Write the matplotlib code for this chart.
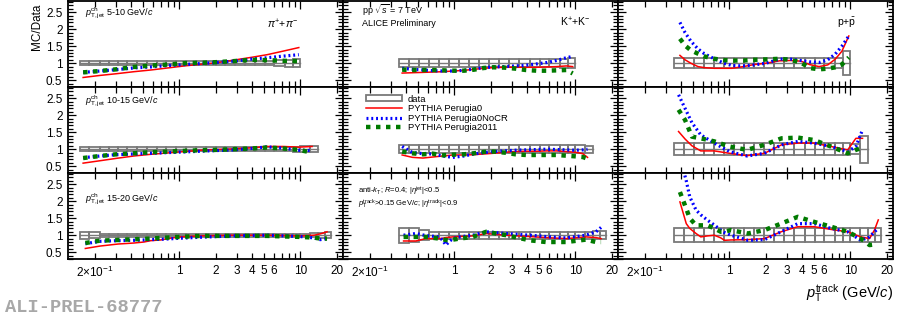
import matplotlib
matplotlib.use("Agg")
import matplotlib.pyplot as plt
from matplotlib.patches import Rectangle, Patch
from matplotlib.lines import Line2D
from matplotlib.ticker import FixedLocator, FixedFormatter
import numpy as np

plt.rcParams['font.family'] = ['Liberation Sans', 'DejaVu Sans']
plt.rcParams['mathtext.fontset'] = 'custom'
plt.rcParams['mathtext.rm'] = 'Liberation Sans'
plt.rcParams['mathtext.it'] = 'Liberation Sans:italic'
plt.rcParams['mathtext.bf'] = 'Liberation Sans:bold'

# ---- data ----
jet_bins = ["5-10", "10-15", "15-20"]
jet_max = [10.0, 14.0, 18.0]

edges_pi = [0.15, 0.18, 0.22, 0.26, 0.31, 0.37, 0.45, 0.54, 0.65, 0.78, 0.94, 1.13,
            1.36, 1.65, 2.0, 2.4, 2.9, 3.5, 4.2, 5.1, 6.1, 7.4, 8.7, 10.0, 12.0, 14.0,
            16.0, 18.0]
edges_kp = [0.35, 0.42, 0.51, 0.62, 0.75, 0.91, 1.1, 1.33, 1.6, 1.95, 2.35, 2.85, 3.45,
            4.2, 5.1, 6.1, 7.4, 8.7, 10.0, 12.0, 14.0, 16.0, 18.0]

# systematic uncertainty of data (half height of boxes), per bin
syst_pi = [[0.06] * 20 + [0.08, 0.10, 0.12],
           [0.06] * 22 + [0.07, 0.08, 0.08],
           [0.10, 0.08] + [0.05] * 22 + [0.06, 0.07, 0.08]]
syst_k = [[0.12] * 16 + [0.13, 0.15],
          [0.12] * 18 + [0.12, 0.10],
          [0.22, 0.20, 0.15] + [0.10] * 17 + [0.12, 0.12]]
syst_p = [[0.15] * 17 + [0.35],
          [0.17] * 18 + [0.15, 0.40],
          [0.20] * 22]

# MC / data ratios: x, Perugia0, Perugia0NoCR, Perugia2011
pi1_x = [0.16, 0.22, 0.3, 0.42, 0.58, 0.8, 1.1, 1.5, 2.0, 2.8, 3.9, 5.3, 7.3, 9.7]
pi1_p0 = [0.58, 0.64, 0.69, 0.75, 0.80, 0.86, 0.92, 0.97, 1.01, 1.09, 1.17, 1.25, 1.36, 1.46]
pi1_nocr = [0.73, 0.77, 0.81, 0.86, 0.89, 0.93, 0.96, 0.99, 1.02, 1.06, 1.12, 1.16, 1.21, 1.25]
pi1_p11 = [0.73, 0.77, 0.82, 0.89, 0.93, 0.96, 1.0, 1.01, 1.03, 1.06, 1.10, 1.09, 1.07, 1.06]

k1_x = [0.37, 0.45, 0.55, 0.66, 0.8, 0.97, 1.2, 1.45, 1.75, 2.1, 2.6, 3.2, 3.9, 4.8, 5.8,
        7.0, 8.4, 9.5]
k1_p0 = [0.71, 0.72, 0.73, 0.74, 0.75, 0.77, 0.79, 0.82, 0.85, 0.87, 0.88, 0.88, 0.88,
         0.88, 0.89, 0.90, 0.92, 0.90]
k1_nocr = [0.85, 0.82, 0.80, 0.78, 0.77, 0.77, 0.79, 0.83, 0.87, 0.89, 0.90, 0.92, 0.94,
           0.98, 1.02, 1.08, 1.16, 1.20]
k1_p11 = [0.81, 0.80, 0.80, 0.80, 0.79, 0.78, 0.78, 0.81, 0.86, 0.88, 0.87, 0.84, 0.80,
          0.78, 0.78, 0.79, 0.80, 0.70]

p1_x = [0.39, 0.43, 0.48, 0.55, 0.62, 0.75, 0.9, 1.05, 1.3, 1.6, 2.0, 2.6, 3.2, 3.9, 4.6,
        5.5, 6.5, 7.5, 8.5, 9.7]
p1_p0 = [1.23, 1.10, 1.0, 0.90, 0.87, 0.85, 0.85, 0.85, 0.90, 0.96, 1.0, 1.07, 1.08, 1.06,
         0.96, 0.90, 0.95, 1.12, 1.35, 1.80]
p1_nocr = [2.20, 1.90, 1.65, 1.42, 1.28, 1.13, 1.0, 0.93, 0.92, 0.95, 1.0, 1.12, 1.12, 1.08,
           1.04, 1.02, 1.10, 1.27, 1.50, 1.80]
p1_p11 = [1.72, 1.52, 1.38, 1.28, 1.20, 1.13, 1.09, 1.08, 1.08, 1.10, 1.11, 1.13, 1.10,
          1.02, 0.86, 0.82, 0.84, 0.88, 0.96, 1.17]

pi2_x = [0.16, 0.22, 0.3, 0.42, 0.58, 0.8, 1.1, 1.5, 2.0, 2.8, 3.9, 5.3, 7.3, 9.7, 12.5]
pi2_p0 = [0.59, 0.66, 0.73, 0.80, 0.85, 0.89, 0.93, 0.97, 0.99, 1.01, 1.04, 1.08, 1.08,
          1.06, 1.08]
pi2_nocr = [0.75, 0.80, 0.84, 0.86, 0.88, 0.90, 0.92, 0.94, 0.96, 0.98, 1.02, 1.07, 1.03,
            0.97, 0.96]
pi2_p11 = [0.74, 0.80, 0.85, 0.88, 0.91, 0.93, 0.95, 0.97, 0.98, 1.0, 1.02, 1.05, 1.02,
           0.98, 0.90]

k2_x = [0.37, 0.45, 0.55, 0.66, 0.8, 0.97, 1.2, 1.45, 1.75, 2.1, 2.6, 3.2, 3.9, 4.8, 5.8,
        7.0, 8.4, 10.0, 11.5, 12.6]
k2_p0 = [0.83, 0.76, 0.74, 0.77, 0.80, 0.83, 0.83, 0.84, 0.86, 0.88, 0.91, 0.93, 0.94,
         0.94, 0.95, 0.95, 0.93, 0.91, 0.87, 0.76]
k2_nocr = [1.08, 0.90, 0.87, 0.86, 0.80, 0.76, 0.80, 0.86, 0.90, 0.93, 0.95, 0.97, 0.98,
           0.99, 1.0, 0.99, 0.98, 0.97, 0.98, 1.0]
k2_p11 = [0.93, 0.88, 0.85, 0.87, 0.82, 0.84, 0.85, 0.88, 0.92, 0.93, 0.90, 0.85, 0.83,
          0.83, 0.83, 0.83, 0.81, 0.79, 0.77, 0.72]

p2_x = [0.38, 0.43, 0.49, 0.58, 0.75, 1.0, 1.4, 1.95, 2.7, 3.7, 5.0, 6.9, 9.5, 11.1, 12.6]
p2_p0 = [1.52, 1.30, 1.10, 0.95, 0.95, 0.88, 0.81, 0.88, 1.13, 1.18, 1.18, 1.08, 0.98,
         1.32, 1.32]
p2_nocr = [2.60, 2.20, 1.78, 1.42, 1.18, 0.93, 0.80, 0.88, 1.13, 1.23, 1.18, 1.08, 0.93,
           1.08, 1.57]
p2_p11 = [2.16, 1.86, 1.37, 1.32, 1.23, 1.08, 0.98, 1.13, 1.32, 1.34, 1.27, 1.08, 0.88,
          0.98, 1.05]

pi3_x = [0.167, 0.22, 0.31, 0.42, 0.51, 0.58, 0.7, 0.8, 1.0, 1.5, 2.8, 5.3, 10.0, 13.0,
         14.6, 16.6]
pi3_p0 = [0.61, 0.68, 0.74, 0.77, 0.80, 0.84, 0.86, 0.90, 0.95, 0.98, 1.0, 1.0, 0.98,
          1.0, 1.04, 1.10]
pi3_nocr = [0.75, 0.82, 0.84, 0.85, 0.86, 0.87, 0.88, 0.89, 0.91, 0.94, 0.98, 1.0, 0.96,
            0.92, 0.87, 0.90]
pi3_p11 = [0.77, 0.84, 0.86, 0.88, 0.89, 0.90, 0.92, 0.93, 0.95, 0.98, 0.98, 0.98, 0.95,
           0.93, 0.90, 0.90]

k3_x = [0.38, 0.48, 0.58, 0.75, 0.8, 0.85, 0.91, 0.97, 1.1, 1.42, 1.83, 2.67, 4.2, 5.7,
        8.4, 12.2, 14.8, 16.3]
k3_p0 = [0.83, 0.83, 0.90, 0.90, 0.91, 0.93, 0.94, 0.95, 0.96, 0.98, 1.05, 1.0, 0.96,
         0.93, 0.90, 0.95, 0.93, 0.90]
k3_nocr = [1.0, 1.05, 0.99, 0.95, 0.85, 0.71, 0.82, 0.90, 0.95, 1.0, 1.10, 1.05, 1.0,
           0.96, 0.92, 1.0, 1.10, 1.23]
k3_p11 = [0.95, 0.95, 0.95, 0.90, 0.88, 0.86, 0.85, 0.87, 0.90, 0.95, 1.10, 1.0, 0.85,
          0.80, 0.80, 0.87, 0.80, 0.80]

p3_x = [0.39, 0.44, 0.47, 0.53, 0.58, 0.66, 0.75, 0.85, 0.91, 1.03, 1.42, 1.95, 2.67,
        3.67, 5.04, 6.92, 9.5, 12.2, 14.4, 15.8, 17.0]
p3_p0 = [1.98, 1.34, 1.20, 1.05, 0.95, 0.98, 1.0, 0.92, 0.85, 0.86, 0.87, 0.90, 1.10,
         1.25, 1.25, 1.17, 1.10, 0.95, 0.90, 1.15, 1.45]
p3_nocr = [3.30, 2.60, 2.13, 1.74, 1.60, 1.44, 1.30, 1.15, 1.08, 1.0, 0.85, 0.87, 1.10,
           1.34, 1.34, 1.20, 1.10, 0.85, 0.95, 1.10, 1.20]
p3_p11 = [2.27, 1.78, 1.50, 1.29, 1.29, 1.29, 1.20, 1.10, 1.10, 1.15, 1.05, 1.15, 1.34,
          1.54, 1.39, 1.25, 1.10, 0.90, 0.71, 0.73, np.nan]

curves = [[(pi1_x, pi1_p0, pi1_nocr, pi1_p11), (k1_x, k1_p0, k1_nocr, k1_p11), (p1_x, p1_p0, p1_nocr, p1_p11)],
          [(pi2_x, pi2_p0, pi2_nocr, pi2_p11), (k2_x, k2_p0, k2_nocr, k2_p11), (p2_x, p2_p0, p2_nocr, p2_p11)],
          [(pi3_x, pi3_p0, pi3_nocr, pi3_p11), (k3_x, k3_p0, k3_nocr, k3_p11), (p3_x, p3_p0, p3_nocr, p3_p11)]]
systs = [syst_pi, syst_k, syst_p]
edges_all = [edges_pi, edges_kp, edges_kp]

# ---- styles ----
gray = '#7a7a7a'
red = '#ff0000'
blue = '#0000ff'
green = '#007a00'
ls_blue = (0, (0.6, 0.9))
ls_green = (0, (1.0, 1.25))

fig = plt.figure(figsize=(9, 3.17), dpi=100)
col_left = [68 / 900, 343 / 900, 618 / 900]
row_bottom = [1 - 87 / 317, 1 - 173 / 317, 1 - 259 / 317]
w = 275 / 900
h = 86 / 317

minor_x = [0.2, 0.3, 0.4, 0.5, 0.6, 0.7, 0.8, 0.9, 2, 3, 4, 5, 6, 7, 8, 9, 20]
minor_lab = [r'2$\times$10$^{-1}$', '', '', '', '', '', '', '', '2', '3', '4', '5', '6',
             '', '', '', '20']

axes = []
for r in range(3):
    for c in range(3):
        ax = fig.add_axes([col_left[c], row_bottom[r], w, h])
        axes.append(ax)
        ax.set_xscale('log')
        ax.set_xlim(0.12, 22.5)
        ax.set_ylim(0.3, 2.83)

        # data boxes
        e = edges_all[c]
        s = systs[c][r]
        for i in range(len(s)):
            x0, x1 = e[i], e[i + 1]
            ax.add_patch(Rectangle((x0, 1 - s[i]), x1 - x0, 2 * s[i], fill=False,
                                   ec=gray, lw=1.3, zorder=2))
            ax.plot([x0, x1], [1, 1], color=gray, lw=1.0, zorder=2)

        x, p0, nocr, p11 = curves[r][c]
        ax.plot(x, p0, color=red, lw=1.1, zorder=3)
        ax.plot(x, nocr, color=blue, lw=2.3, linestyle=ls_blue, zorder=4)
        ax.plot(x, p11, color=green, lw=3.2, linestyle=ls_green, zorder=5)

        # axes style
        for sp in ax.spines.values():
            sp.set_linewidth(1.3)
        ax.xaxis.set_major_locator(FixedLocator([1, 10]))
        ax.xaxis.set_major_formatter(FixedFormatter(['1', '10']))
        ax.xaxis.set_minor_locator(FixedLocator(minor_x))
        ax.xaxis.set_minor_formatter(FixedFormatter(minor_lab))
        ax.yaxis.set_major_locator(FixedLocator([0.5, 1, 1.5, 2, 2.5]))
        ax.yaxis.set_major_formatter(FixedFormatter(['0.5', '1', '1.5', '2', '2.5']))
        ax.yaxis.set_minor_locator(FixedLocator(np.arange(0.3, 2.85, 0.1)))
        ax.tick_params(which='both', direction='in', top=True, right=True,
                       labelsize=8.5, width=0.9, pad=4)
        ax.tick_params(which='major', length=6)
        ax.tick_params(which='minor', length=3.5)
        ax.tick_params(axis='x', which='minor', length=4.5)
        if r != 2:
            ax.tick_params(which='both', labelbottom=False)
        if c != 0:
            ax.tick_params(which='both', labelleft=False)

tsize = 6.5
for r in range(3):
    ax = axes[r * 3]
    ypos = [0.86, 0.84, 0.70][r]
    ax.text(0.062, ypos, r'$p^{\rm ch}_{\rm T,jet}$ ' + jet_bins[r] + r' GeV/$c$',
            transform=ax.transAxes, fontsize=tsize, va='center', ha='left')

axes[0].text(0.78, 0.73, r'$\pi^{+}$+$\pi^{-}$', transform=axes[0].transAxes,
             fontsize=7.5, ha='center', va='center')
axes[1].text(0.07, 0.89, r'pp $\sqrt{s}$ = 7 TeV', transform=axes[1].transAxes,
             fontsize=tsize, ha='left', va='center')
axes[1].text(0.07, 0.74, 'ALICE Preliminary', transform=axes[1].transAxes,
             fontsize=tsize, ha='left', va='center')
axes[1].text(0.845, 0.75, r'K$^{+}$+K$^{-}$', transform=axes[1].transAxes,
             fontsize=7.5, ha='center', va='center')
axes[2].text(0.83, 0.74, r'p+$\bar{\rm p}$', transform=axes[2].transAxes,
             fontsize=7.5, ha='center', va='center')
axes[7].text(0.055, 0.79, r'anti-$k_{\rm T}$; $R$=0.4; |$\eta^{\rm jet}$|<0.5',
             transform=axes[7].transAxes, fontsize=5.5, ha='left', va='center')
axes[7].text(0.055, 0.63, r'$p_{\rm T}^{\rm track}$>0.15 GeV/$c$; |$\eta^{\rm track}$|<0.9',
             transform=axes[7].transAxes, fontsize=5.5, ha='left', va='center')

handles = [Patch(facecolor='none', edgecolor=gray, lw=1.3),
           Line2D([], [], color=red, lw=1.1),
           Line2D([], [], color=blue, lw=2.3, linestyle=ls_blue),
           Line2D([], [], color=green, lw=3.2, linestyle=ls_green)]
labels = ['data', 'PYTHIA Perugia0', 'PYTHIA Perugia0NoCR', 'PYTHIA Perugia2011']
axes[4].legend(handles, labels, loc='upper left', bbox_to_anchor=(0.085, 0.91),
               frameon=False, fontsize=6.8, handlelength=3.8, labelspacing=0.05,
               handletextpad=0.6, borderaxespad=0, borderpad=0, handleheight=0.6)

fig.text(37 / 900, 1 - 4 / 317, 'MC/Data', rotation=90, ha='center', va='top', fontsize=8.5)
fig.text(893 / 900, 1 - 298 / 317, r'$p_{\rm T}^{\rm track}$ (GeV/$c$)', ha='right',
         va='baseline', fontsize=10.5)
fig.text(5 / 900, 1 - 307 / 317, 'ALI-PREL-68777', family='Liberation Mono',
         weight='bold', color='#a8a8a8', fontsize=13.5, ha='left', va='center')

fig.savefig('out.png', dpi=100)
